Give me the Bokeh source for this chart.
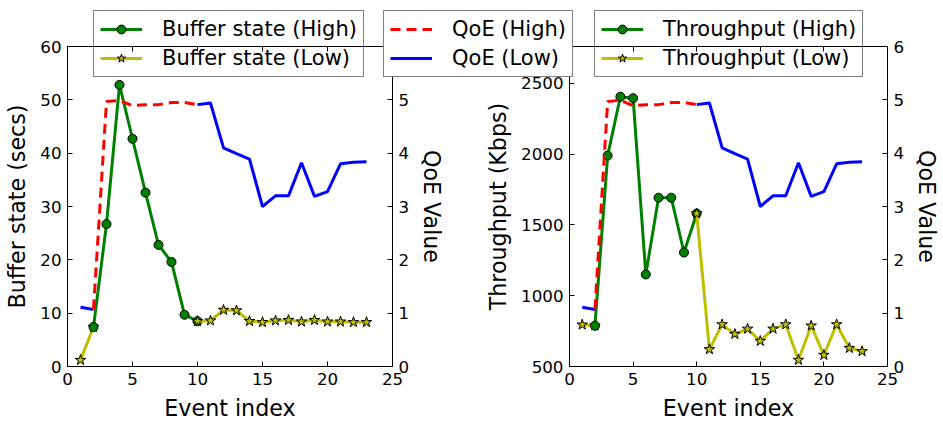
from bokeh.plotting import figure
from bokeh.models import (Range1d, LinearAxis, Legend, LegendItem, FixedTicker,
                          ColumnDataSource)
from bokeh.layouts import row, column
from bokeh.embed import file_html
from bokeh.resources import INLINE

# ---- data -----------------------------------------------------------------
events = list(range(1, 24))
buffer_secs = [1.2, 7.4, 26.7, 52.8, 42.7, 32.6, 22.8, 19.6, 9.7, 8.5, 8.6, 10.6,
               10.5, 8.5, 8.3, 8.6, 8.7, 8.4, 8.7, 8.4, 8.4, 8.3, 8.3]
throughput_kbps = [795, 788, 1990, 2405, 2395, 1150, 1692, 1692, 1305, 1580, 621,
                   797, 729, 766, 680, 766, 797, 546, 788, 581, 797, 630, 607]
qoe_value = [1.11, 1.07, 4.97, 4.99, 4.89, 4.91, 4.91, 4.95, 4.95, 4.91, 4.94, 4.10,
             3.99, 3.89, 3.00, 3.20, 3.20, 3.82, 3.19, 3.28, 3.80, 3.83, 3.84]

# stretches of events played at each bitrate level (switch events shared)
low_start = [1, 2]
high_span = [2, 3, 4, 5, 6, 7, 8, 9, 10]
low_end = list(range(10, 24))

x_ticks = [0, 5, 10, 15, 20, 25]
buffer_ticks = [0, 10, 20, 30, 40, 50, 60]
throughput_ticks = [500, 1000, 1500, 2000, 2500]
qoe_ticks = [0, 1, 2, 3, 4, 5, 6]

# ---- styling ----------------------------------------------------------------
FONT = "DejaVu Sans"
GREEN = "#008000"
OLIVE = "#bfbf00"
RED = "#ff0000"
BLUE = "#0000ff"
TICK_SIZE = "16.7px"
LABEL_SIZE = "22.2px"
LEGEND_SIZE = "21px"
QOE_DASH = "10 6"

HIGH_STYLE = dict(color=GREEN, marker="circle", size=9)
LOW_STYLE = dict(color=OLIVE, marker="star", size=11)


def pick(values, idx):
    return [values[i - 1] for i in idx]


def style_axis(ax, ticks, label=None, show_labels=True):
    ax.ticker = FixedTicker(ticks=ticks)
    ax.major_tick_in = 5
    ax.major_tick_out = 0
    ax.minor_tick_line_color = None
    ax.axis_line_color = "black"
    ax.major_tick_line_color = "black"
    ax.major_label_text_font = FONT
    ax.major_label_text_font_size = TICK_SIZE
    ax.major_label_text_color = "black"
    ax.major_label_standoff = 6
    if not show_labels:
        ax.major_label_overrides = {t: "" for t in ticks}
    if label is not None:
        ax.axis_label = label
        ax.axis_label_text_font = FONT
        ax.axis_label_text_font_size = LABEL_SIZE
        ax.axis_label_text_font_style = "normal"
        ax.axis_label_text_color = "black"
        ax.axis_label_standoff = 7


def stretch(p, xs, ys, style):
    src = ColumnDataSource(dict(x=xs, y=ys))
    ln = p.line("x", "y", source=src, line_color=style["color"], line_width=3)
    mk = p.scatter("x", "y", source=src, marker=style["marker"], size=style["size"],
                   fill_color=style["color"], line_color="black", line_width=1)
    return [ln, mk]


def qoe_stretch(p, idx, color, dash, range_name="qoe"):
    src = ColumnDataSource(dict(x=idx, y=pick(qoe_value, idx)))
    return p.line("x", "y", source=src, line_color=color, line_width=3,
                  line_dash=dash, y_range_name=range_name)


def build(values, y_range, y_ticks, y_label, width, left, right, margin):
    p = figure(width=width, height=423, x_range=Range1d(0, 25),
               y_range=Range1d(*y_range), output_backend="svg",
               toolbar_location=None, min_border_left=left,
               min_border_right=right, min_border_top=46,
               min_border_bottom=57, margin=margin)
    p.grid.visible = False
    p.outline_line_color = "black"
    p.outline_line_width = 1
    p.border_fill_color = None
    p.extra_y_ranges = {"qoe": Range1d(0, 6)}

    style_axis(p.xaxis[0], x_ticks, "Event index")
    style_axis(p.yaxis[0], y_ticks, y_label)
    top = LinearAxis()
    style_axis(top, x_ticks, show_labels=False)
    p.add_layout(top, "above")
    qoe_axis = LinearAxis(y_range_name="qoe")
    style_axis(qoe_axis, qoe_ticks, "QoE Value")
    p.add_layout(qoe_axis, "right")

    stretch(p, low_start, pick(values, low_start), LOW_STYLE)
    stretch(p, high_span, pick(values, high_span), HIGH_STYLE)
    stretch(p, low_end, pick(values, low_end), LOW_STYLE)
    qoe_stretch(p, low_start, BLUE, "solid")
    qoe_stretch(p, high_span, RED, QOE_DASH)
    qoe_stretch(p, low_end, BLUE, "solid")
    return p


p1 = build(buffer_secs, (0, 60), buffer_ticks, "Buffer state (secs)",
           470, 67, 78, (0, 0, 0, 0))
p2 = build(throughput_kbps, (500, 2760), throughput_ticks, "Throughput (Kbps)",
           563, 189, 50, (0, 0, 0, -90))

# ---- legend strip laid over the top of both panels ----------------------------
# The strip's own ranges sit away from the data, so its series only feed the
# legend swatches and never show up as marks.
key = figure(width=943, height=80, x_range=Range1d(-2, -1), y_range=Range1d(-2, -1),
             output_backend="svg", toolbar_location=None, min_border=0,
             x_axis_location=None, y_axis_location=None, margin=(-423, 0, 0, 0))
key.outline_line_color = None
key.background_fill_color = None
key.border_fill_color = None
for g in key.grid:
    g.visible = False
key.extra_y_ranges = {"qoe": Range1d(-2, -1)}


def make_legend(items, x, opaque):
    leg = Legend(items=items, location=(x, 3))
    leg.label_text_font = FONT
    leg.label_text_font_size = LEGEND_SIZE
    leg.label_text_color = "black"
    leg.border_line_color = "black"
    leg.border_line_width = 1
    leg.background_fill_color = "white"
    leg.background_fill_alpha = 1 if opaque else 0
    leg.padding = 6
    leg.spacing = 5
    leg.margin = 0
    leg.glyph_width = 42
    leg.glyph_height = 22
    leg.label_height = 22
    leg.label_standoff = 20
    key.add_layout(leg)


make_legend([LegendItem(label="Buffer state (High)",
                        renderers=stretch(key, high_span, pick(buffer_secs, high_span), HIGH_STYLE)),
             LegendItem(label="Buffer state (Low)",
                        renderers=stretch(key, low_end, pick(buffer_secs, low_end), LOW_STYLE))],
            93, False)
make_legend([LegendItem(label="QoE (High)", renderers=[qoe_stretch(key, high_span, RED, QOE_DASH)]),
             LegendItem(label="QoE (Low)", renderers=[qoe_stretch(key, low_end, BLUE, "solid")])],
            383, True)
make_legend([LegendItem(label="Throughput (High)",
                        renderers=stretch(key, high_span, pick(throughput_kbps, high_span), HIGH_STYLE)),
             LegendItem(label="Throughput (Low)",
                        renderers=stretch(key, low_end, pick(throughput_kbps, low_end), LOW_STYLE))],
            594, False)

layout = column(row(p1, p2), key)
open("out.html", "w").write(file_html(layout, INLINE))
